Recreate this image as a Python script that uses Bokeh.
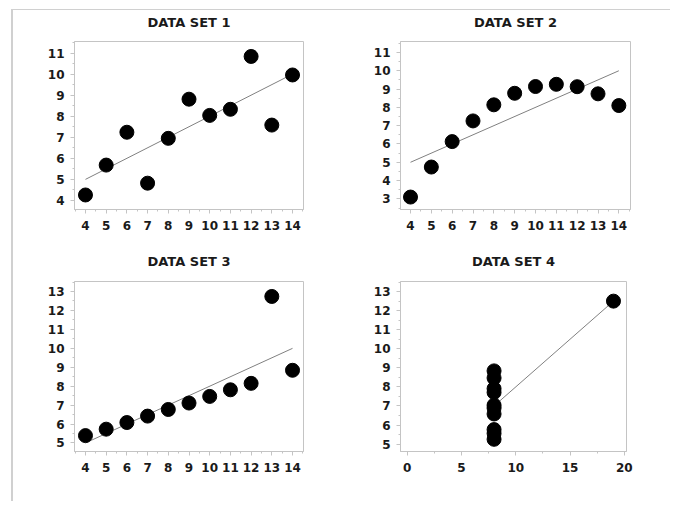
import numpy as np
from bokeh.plotting import figure
from bokeh.layouts import column, row
from bokeh.models import Range1d, SingleIntervalTicker, FixedTicker, LinearAxis
from bokeh.embed import file_html
from bokeh.resources import INLINE

x123 = [10, 8, 13, 9, 11, 14, 6, 4, 12, 7, 5]
y1 = [8.04, 6.95, 7.58, 8.81, 8.33, 9.96, 7.24, 4.26, 10.84, 4.82, 5.68]
y2 = [9.14, 8.14, 8.74, 8.77, 9.26, 8.10, 6.13, 3.10, 9.13, 7.26, 4.74]
y3 = [7.46, 6.77, 12.74, 7.11, 7.81, 8.84, 6.08, 5.39, 8.15, 6.42, 5.73]
x4 = [8, 8, 8, 8, 8, 8, 8, 19, 8, 8, 8]
y4 = [6.58, 5.76, 7.71, 8.84, 8.47, 7.04, 5.25, 12.50, 5.56, 7.91, 6.89]
titles = ["DATA SET 1", "DATA SET 2", "DATA SET 3", "DATA SET 4"]

GRAY = "#c4c4c4"
FONT = "DejaVu Sans"


def make(title, xs, ys, w, h, bl, br, bt, bb, xr, yr, xint, tgap):
    p = figure(width=w, height=h, x_range=Range1d(*xr), y_range=Range1d(*yr),
               output_backend="svg", toolbar_location=None,
               min_border_left=bl, min_border_right=br,
               min_border_top=bt, min_border_bottom=bb)
    bottom_ax = p.below[0]
    left_ax = p.left[0]
    bottom_ax.ticker = SingleIntervalTicker(interval=xint, num_minor_ticks=2)
    left_ax.ticker = SingleIntervalTicker(interval=1, num_minor_ticks=2)
    for ax in (bottom_ax, left_ax):
        ax.axis_line_color = GRAY
        ax.major_tick_line_color = GRAY
        ax.minor_tick_line_color = GRAY
        ax.major_tick_out = 4
        ax.major_tick_in = 0
        ax.minor_tick_out = 2
        ax.minor_tick_in = 0
        ax.major_label_text_font = FONT
        ax.major_label_text_font_size = "12px"
        ax.major_label_text_font_style = "bold"
        ax.major_label_text_color = "#1a1a1a"
    bottom_ax.major_label_standoff = 7
    left_ax.major_label_standoff = 6
    # title drawn as the label of an empty axis above the frame
    tax = LinearAxis(ticker=FixedTicker(ticks=[]), axis_label=title,
                     axis_line_color=None, major_tick_line_color=None,
                     minor_tick_line_color=None, major_tick_out=0, minor_tick_out=0,
                     major_tick_in=0, minor_tick_in=0,
                     major_label_text_font_size="0px",
                     axis_label_standoff=tgap,
                     axis_label_text_font=FONT, axis_label_text_font_size="13px",
                     axis_label_text_font_style="bold", axis_label_text_color="#1a1a1a")
    p.add_layout(tax, "above")
    p.outline_line_color = GRAY
    p.outline_line_width = 1
    p.grid.visible = False
    p.background_fill_color = "white"
    p.border_fill_color = "white"
    xa = np.array(xs, dtype=float)
    ya = np.array(ys, dtype=float)
    b, a = np.polyfit(xa, ya, 1)
    lx = np.array([xa.min(), xa.max()])
    p.line(lx, a + b * lx, line_color="#808080", line_width=1)
    p.scatter(xs, ys, size=14, fill_color="black", line_color="black")
    return p


p1 = make(titles[0], x123, y1, 326, 239, 61, 36, 31, 40, (3.47, 14.53), (3.57, 11.55), 1, 12)
p2 = make(titles[1], x123, y2, 331, 239, 61, 40, 31, 40, (3.52, 14.56), (2.42, 11.6), 1, 12)
p3 = make(titles[2], x123, y3, 326, 252, 61, 36, 32, 50, (3.47, 14.53), (4.55, 13.53), 1, 13)
p4 = make(titles[3], x4, y4, 331, 252, 61, 44, 32, 50, (-0.62, 20.2), (4.61, 13.53), 5, 13)

layout = column(row(p1, p2), row(p3, p4), margin=(9, 0, 0, 11),
                styles={"border-top": "1px solid #d0d0d0", "border-left": "2px solid #d0d0d0"})

open("out.html", "w").write(file_html(layout, INLINE))
